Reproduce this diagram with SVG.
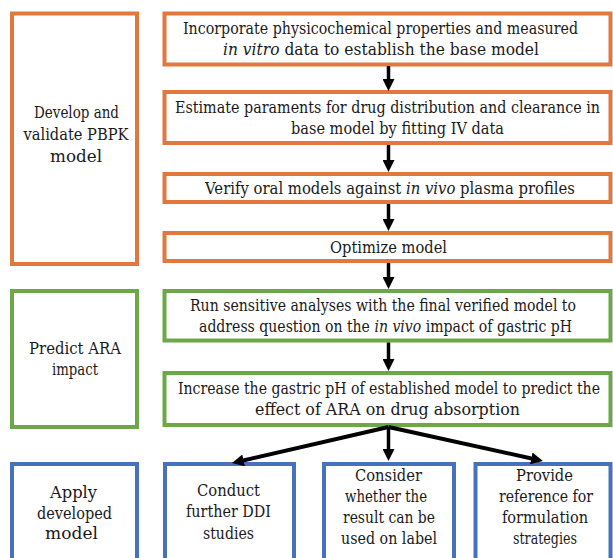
<svg xmlns="http://www.w3.org/2000/svg" width="613" height="558" viewBox="0 0 613 558">
<defs>
<style>
.o{fill:#fff;stroke:#E2783D;stroke-width:4}
.g{fill:#fff;stroke:#6CA847;stroke-width:4}
.b{fill:#fff;stroke:#4571BD;stroke-width:4}
.t text{font-family:'DejaVu Serif','Liberation Serif','Noto Serif',serif;font-size:16.8px;fill:#1a1a1a}
.t .s{font-size:16.3px}
.t .i{font-style:italic}
.c line{stroke:#000;stroke-width:3.5}
</style>
<marker id="ah" viewBox="0 0 12 12" refX="6" refY="6" markerWidth="12" markerHeight="12" markerUnits="userSpaceOnUse" orient="auto">
<path d="M0,0 L12,6 L0,12 z" fill="#000"/>
</marker>
</defs>
<rect width="613" height="558" fill="#fff"/>
<g class="t">
<g id="phase1">
<rect class="o" x="12" y="13.5" width="125" height="250.5"/>
<text class="s" x="34" y="118" textLength="85" lengthAdjust="spacingAndGlyphs">Develop and</text>
<text class="s" x="23.5" y="140" textLength="105" lengthAdjust="spacingAndGlyphs">validate PBPK</text>
<text class="s" x="50" y="162" textLength="52" lengthAdjust="spacingAndGlyphs">model</text>
</g>
<g id="phase2">
<rect class="g" x="12" y="291" width="125" height="136"/>
<text class="s" x="29" y="354" textLength="92" lengthAdjust="spacingAndGlyphs">Predict ARA</text>
<text class="s" x="52" y="375" textLength="46" lengthAdjust="spacingAndGlyphs">impact</text>
</g>
<g id="phase3">
<rect class="b" x="12" y="464" width="125" height="100"/>
<text class="s" x="50" y="498" textLength="47" lengthAdjust="spacingAndGlyphs">Apply</text>
<text class="s" x="37" y="518.5" textLength="75" lengthAdjust="spacingAndGlyphs">developed</text>
<text class="s" x="45" y="539" textLength="53" lengthAdjust="spacingAndGlyphs">model</text>
</g>

<g id="step1">
<rect class="o" x="164.5" y="13.5" width="446" height="51"/>
<text x="183" y="34" textLength="395" lengthAdjust="spacingAndGlyphs">Incorporate physicochemical properties and measured</text>
<text x="223" y="55" textLength="316" lengthAdjust="spacingAndGlyphs"><tspan class="i">in vitro</tspan> data to establish the base model</text>
</g>
<g id="step2">
<rect class="o" x="164.5" y="92" width="446" height="51"/>
<text x="175" y="112.5" textLength="425" lengthAdjust="spacingAndGlyphs">Estimate paraments for drug distribution and clearance in</text>
<text x="291" y="133.5" textLength="213" lengthAdjust="spacingAndGlyphs">base model by fitting IV data</text>
</g>
<g id="step3">
<rect class="o" x="164.5" y="174" width="446" height="28"/>
<text x="205" y="194" textLength="370" lengthAdjust="spacingAndGlyphs">Verify oral models against <tspan class="i">in vivo</tspan> plasma profiles</text>
</g>
<g id="step4">
<rect class="o" x="164.5" y="233" width="446" height="28"/>
<text x="330" y="253" textLength="117" lengthAdjust="spacingAndGlyphs">Optimize model</text>
</g>
<g id="step5">
<rect class="g" x="164.5" y="291" width="446" height="49.5"/>
<text x="190" y="311" textLength="386" lengthAdjust="spacingAndGlyphs">Run sensitive analyses with the final verified model to</text>
<text x="199" y="332" textLength="373" lengthAdjust="spacingAndGlyphs">address question on the <tspan class="i">in vivo</tspan> impact of gastric pH</text>
</g>
<g id="step6">
<rect class="g" x="164.5" y="373" width="446" height="52"/>
<text x="178" y="394" textLength="422" lengthAdjust="spacingAndGlyphs">Increase the gastric pH of established model to predict the</text>
<text x="255" y="415" textLength="265" lengthAdjust="spacingAndGlyphs">effect of ARA on drug absorption</text>
</g>

<g id="app1">
<rect class="b" x="165" y="464" width="129" height="100"/>
<text class="s" x="197" y="495.5" textLength="63" lengthAdjust="spacingAndGlyphs">Conduct</text>
<text class="s" x="186" y="517" textLength="85" lengthAdjust="spacingAndGlyphs">further DDI</text>
<text class="s" x="203" y="538.5" textLength="51" lengthAdjust="spacingAndGlyphs">studies</text>
</g>
<g id="app2">
<rect class="b" x="324" y="464" width="130" height="100"/>
<text class="s" x="355" y="481" textLength="67" lengthAdjust="spacingAndGlyphs">Consider</text>
<text class="s" x="345" y="502" textLength="82" lengthAdjust="spacingAndGlyphs">whether the</text>
<text class="s" x="343" y="523" textLength="92" lengthAdjust="spacingAndGlyphs">result can be</text>
<text class="s" x="341" y="544" textLength="96" lengthAdjust="spacingAndGlyphs">used on label</text>
</g>
<g id="app3">
<rect class="b" x="475.5" y="464" width="135" height="100"/>
<text class="s" x="516" y="481" textLength="57" lengthAdjust="spacingAndGlyphs">Provide</text>
<text class="s" x="499" y="502" textLength="94" lengthAdjust="spacingAndGlyphs">reference for</text>
<text class="s" x="502" y="523" textLength="86" lengthAdjust="spacingAndGlyphs">formulation</text>
<text class="s" x="513" y="544" textLength="64" lengthAdjust="spacingAndGlyphs">strategies</text>
</g>
</g>
<g id="connectors" class="c">
<line x1="388.5" y1="66" x2="388.5" y2="85" marker-end="url(#ah)"/>
<line x1="388.5" y1="145" x2="388.5" y2="166" marker-end="url(#ah)"/>
<line x1="388.5" y1="204" x2="388.5" y2="225" marker-end="url(#ah)"/>
<line x1="388.5" y1="263" x2="388.5" y2="283" marker-end="url(#ah)"/>
<line x1="388.5" y1="342.5" x2="388.5" y2="365" marker-end="url(#ah)"/>
<line x1="388.5" y1="427" x2="237.8" y2="461.7" marker-end="url(#ah)" style="stroke-width:4"/>
<line x1="388.5" y1="427" x2="388.5" y2="455" marker-end="url(#ah)"/>
<line x1="388.5" y1="427" x2="537.1" y2="459.7" marker-end="url(#ah)" style="stroke-width:4"/>
</g>
</svg>
